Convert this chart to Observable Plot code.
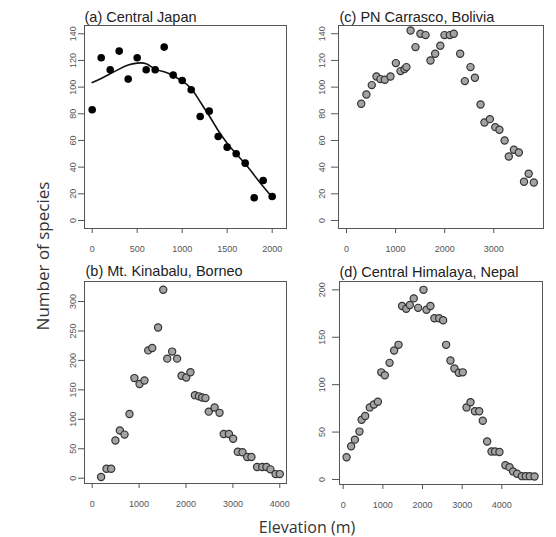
<!DOCTYPE html>
<html>
<head>
<meta charset="utf-8">
<script src="https://cdn.jsdelivr.net/npm/d3@7"></script>
<script src="https://cdn.jsdelivr.net/npm/@observablehq/plot@0.6"></script>
<style>
  html, body { margin: 0; padding: 0; background: #fff; }
  #wrap { position: relative; width: 556px; height: 537px; overflow: hidden; background: #fff; }
  #wrap svg { position: absolute; }
  .axtitle { position: absolute; font-family: "Open Sans", Lato, sans-serif; font-size: 16px; line-height: 16px; color: #333; white-space: nowrap; }
</style>
</head>
<body>
<div id="wrap"></div>
<script>
// ---------- DATA ----------
// (a) Central Japan
const japanElev = [0,100,200,300,400,500,600,700,800,900,1000,1100,1200,1300,1400,1500,1600,1700,1800,1900,2000];
const japanSpecies = [83,122,113,127,106,122,113,113,130,109,105,98,78,82,63,55,50,43,17,30,18];
const japanFitElev = [0,100,200,300,400,500,600,700,800,900,1000,1100,1200,1300,1400,1500,1600,1700,1800,1900,2000];
const japanFitSpecies = [103.5,106.5,110,113.5,116.5,118,117.5,113.5,111.5,108.5,104.5,99,89,78.5,67.5,58,50,42.5,34,25.5,17.5];

// (c) PN Carrasco, Bolivia
const carrascoElev = [300,405,515,610,690,780,895,1005,1100,1180,1220,1305,1405,1505,1610,1710,1805,1910,1995,2105,2185,2315,2410,2525,2615,2730,2810,2920,3030,3115,3220,3305,3410,3510,3615,3710,3815];
const carrascoSpecies = [87.5,94.5,101.5,108,106,105.5,108,118,112,113.5,115,142.5,130,140,139,120,125,131,139,139,140,125,104.5,115,107,87,73.5,76,70,68,60,48,53,51,29,35,28.5];

// (b) Mt. Kinabalu, Borneo
const kinabaluElev = [190,305,405,495,590,690,795,900,1010,1115,1195,1280,1405,1515,1600,1705,1810,1905,2005,2095,2190,2275,2345,2415,2485,2610,2715,2805,2915,3005,3105,3205,3305,3395,3515,3625,3715,3800,3910,4000];
const kinabaluSpecies = [2,16,16,64,81,74,109,170,160,166,217,221,256,320,203,215,203,174,171,180,141,139,137,136,113,120,111,75,75,67,45,44,36,36,19,19,19,15,7,7];

// (d) Central Himalaya, Nepal
const himalayaElev = [85,200,295,410,465,555,670,775,875,960,1050,1170,1285,1395,1485,1590,1680,1780,1890,2025,2100,2200,2300,2420,2520,2595,2705,2805,2915,3015,3110,3210,3320,3430,3520,3630,3740,3830,3940,4090,4195,4285,4385,4505,4605,4705,4825];
const himalayaSpecies = [23.5,35,42,50.5,63,67,76,79,82,113,110,123,136,142,183,180,184,191,181,200,179,183,170,170,168,142,125.5,117,112.5,113,76,81.5,72,72,62,40,29.5,29.5,29,15,13,8.5,6,3.5,3.5,3.5,3.2];

// Tick values
const japanXTicks = [0,500,1000,1500,2000];
const japanYTicks = [0,20,40,60,80,100,120,140];
const carrascoXTicks = [0,1000,2000,3000];
const carrascoYTicks = [0,20,40,60,80,100,120,140];
const kinabaluXTicks = [0,1000,2000,3000,4000];
const kinabaluYTicks = [0,50,100,150,200,250,300];
const himalayaXTicks = [0,1000,2000,3000,4000];
const himalayaYTicks = [0,50,100,150,200];

// Titles
const titleA = "(a) Central Japan";
const titleB = "(b) Mt. Kinabalu, Borneo";
const titleC = "(c) PN Carrasco, Bolivia";
const titleD = "(d) Central Himalaya, Nepal";
const yTitle = "Number of species";
const xTitle = "Elevation (m)";

// ---------- DRAWING ----------
const wrap = document.getElementById("wrap");
const zip = (xs, ys) => xs.map((x, i) => ({x, y: ys[i]}));
const tickFont = "'Liberation Sans Narrow', 'Liberation Sans', Arial, sans-serif";
const plain = d => String(d);

function panel(cfg) {
  const {left, top, width, height, box, xDomain, yDomain, xTicks, yTicks, title, marks, yTickSize, yTickPadding, titleDy, titleDx} = cfg;
  const svg = Plot.plot({
    width, height,
    marginLeft: box[0] - left,
    marginRight: left + width - box[1],
    marginTop: box[2] - top,
    marginBottom: top + height - box[3],
    x: {domain: xDomain},
    y: {domain: yDomain},
    style: {fontFamily: tickFont, fontSize: "9px", color: "#555", background: "transparent", overflow: "visible"},
    marks: [
      ...marks,
      Plot.frame({stroke: "#555", strokeWidth: 1}),
      Plot.axisX({ticks: xTicks, tickFormat: plain, tickSize: 5, tickPadding: 12, label: null, stroke: "#555"}),
      Plot.axisY({ticks: yTicks, tickFormat: plain, tickRotate: -90, tickSize: yTickSize, tickPadding: yTickPadding, label: null, stroke: "#555"}),
      Plot.text([title], {frameAnchor: "top-left", textAnchor: "start", lineAnchor: "bottom", dy: titleDy, dx: titleDx,
        fontSize: 14.5, fontFamily: "'Liberation Sans', Arial, sans-serif", fill: "#222"})
    ]
  });
  svg.style.left = left + "px";
  svg.style.top = top + "px";
  wrap.appendChild(svg);
}

const grayDot = {r: 3.6, fill: "#a3a3a3", stroke: "#333", strokeWidth: 1.2};

// (a)
panel({
  left: 0, top: 0, width: 290, height: 262, box: [84, 286, 25, 228],
  xDomain: [-85.6, 2159], yDomain: [-6.0, 146.2],
  xTicks: japanXTicks, yTicks: japanYTicks, title: titleA, titleDy: -4, titleDx: 0,
  yTickSize: 6, yTickPadding: 3,
  marks: [
    Plot.line(zip(japanFitElev, japanFitSpecies), {x: "x", y: "y", curve: "natural", stroke: "#111", strokeWidth: 1.6}),
    Plot.dot(zip(japanElev, japanSpecies), {x: "x", y: "y", r: 3.8, fill: "#000", stroke: "none"})
  ]
});

// (c)
panel({
  left: 290, top: 0, width: 266, height: 262, box: [338, 543, 25, 228],
  xDomain: [-163, 4012], yDomain: [-6.0, 146.2],
  xTicks: carrascoXTicks, yTicks: carrascoYTicks, title: titleC, titleDy: -4, titleDx: 1,
  yTickSize: 7, yTickPadding: 7,
  marks: [
    Plot.dot(zip(carrascoElev, carrascoSpecies), {x: "x", y: "y", ...grayDot})
  ]
});

// (b)
panel({
  left: 0, top: 262, width: 290, height: 275, box: [84, 286, 281, 483],
  xDomain: [-164, 4143], yDomain: [-9.0, 334],
  xTicks: kinabaluXTicks, yTicks: kinabaluYTicks, title: titleB, titleDy: -6, titleDx: 1,
  yTickSize: 6, yTickPadding: 3,
  marks: [
    Plot.dot(zip(kinabaluElev, kinabaluSpecies), {x: "x", y: "y", ...grayDot})
  ]
});

// (d)
panel({
  left: 290, top: 262, width: 266, height: 275, box: [339, 542, 281, 484],
  xDomain: [-93, 5026], yDomain: [-5.3, 208.8],
  xTicks: himalayaXTicks, yTicks: himalayaYTicks, title: titleD, titleDy: -5, titleDx: 0,
  yTickSize: 7, yTickPadding: 8,
  marks: [
    Plot.dot(zip(himalayaElev, himalayaSpecies), {x: "x", y: "y", ...grayDot})
  ]
});

// Axis titles
const yt = document.createElement("div");
yt.className = "axtitle";
yt.textContent = yTitle;
yt.style.fontSize = "17px";
yt.style.lineHeight = "17px";
yt.style.left = "41.5px";
yt.style.top = "256px";
yt.style.transform = "translate(-50%, -50%) rotate(-90deg)";
wrap.appendChild(yt);

const xt = document.createElement("div");
xt.className = "axtitle";
xt.textContent = xTitle;
xt.style.left = "307px";
xt.style.top = "519px";
xt.style.transform = "translateX(-50%)";
wrap.appendChild(xt);
</script>
</body>
</html>
